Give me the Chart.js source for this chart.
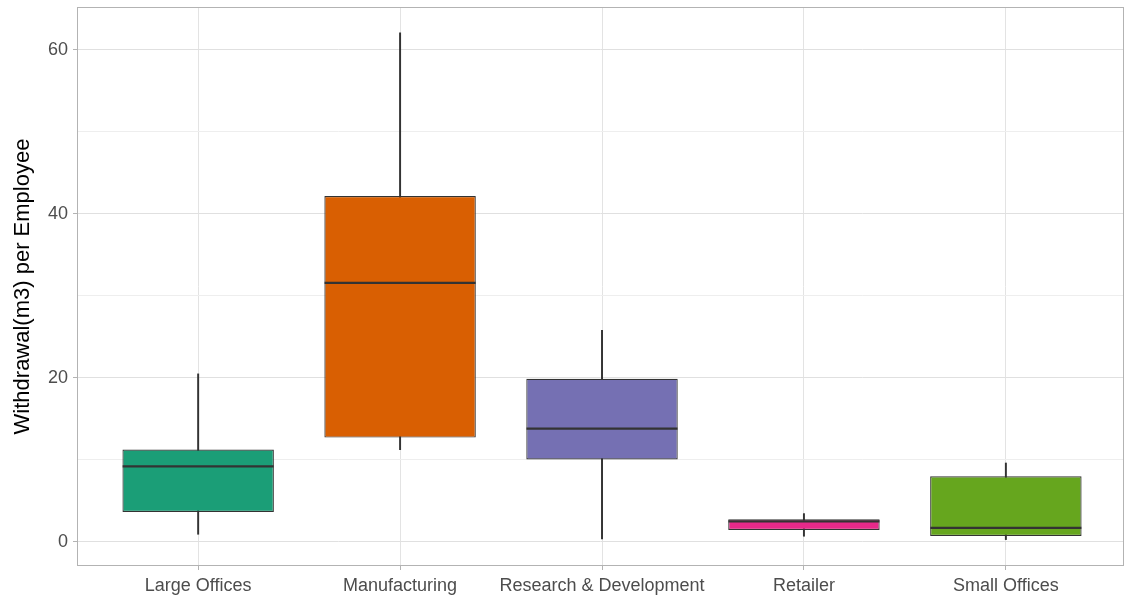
<!DOCTYPE html>
<html>
<head>
<meta charset="utf-8">
<script src="https://cdn.jsdelivr.net/npm/chart.js@4/dist/chart.umd.min.js"></script>
<style>
  html, body { margin: 0; padding: 0; background: #ffffff; }
  #wrap { width: 1124px; height: 601px; position: relative; }
</style>
</head>
<body>
<div id="wrap"><canvas id="chart"></canvas></div>
<script>
// Water withdrawal per employee by site type (box-and-whisker summary)
const categories = ['Large Offices', 'Manufacturing', 'Research & Development', 'Retailer', 'Small Offices'];
const whiskerLow  = [0.94, 11.27, 0.37, 0.70, 0.29];
const lowerQuart  = [3.66, 12.73, 10.05, 1.46, 0.73];
const medians     = [9.23, 31.60, 13.83, 2.52, 1.71];
const upperQuart  = [11.27, 42.20, 19.90, 2.77, 8.00];
const whiskerHigh = [20.50, 62.10, 25.80, 3.46, 9.63];
const yTickValues = [0, 10, 20, 30, 40, 50, 60];
const yLabelled   = [0, 20, 40, 60];
const boxColors   = ['#1B9E77', '#D95F02', '#7570B3', '#E7298A', '#66A61E'];

const FONT = '"Liberation Sans", Arial, Helvetica, sans-serif';
const INK = '#333333';

// ggplot-style panel frame drawn over the plot
const panelFrame = {
  id: 'panelFrame',
  afterDatasetsDraw(chart) {
    const { ctx, chartArea: a } = chart;
    ctx.save();
    ctx.strokeStyle = '#b3b3b3';
    ctx.lineWidth = 1;
    ctx.strokeRect(a.left + 0.5, a.top + 0.5, a.right - a.left - 1, a.bottom - a.top - 1);
    ctx.restore();
  }
};

new Chart(document.getElementById('chart'), {
  type: 'bar',
  data: {
    datasets: [
      {
        type: 'line',
        label: 'median',
        data: categories.map((c, i) => ({ x: i, y: medians[i] })),
        showLine: false,
        pointStyle: 'line',
        pointRadius: 75.5,
        pointHoverRadius: 75.5,
        pointBorderWidth: 2.2,
        pointBorderColor: INK,
        borderColor: INK,
        order: 0
      },
      {
        label: 'box',
        data: categories.map((c, i) => ({ x: i, y: [lowerQuart[i], upperQuart[i]] })),
        backgroundColor: boxColors,
        borderColor: INK,
        borderWidth: 1.2,
        borderSkipped: false,
        grouped: false,
        categoryPercentage: 1,
        barPercentage: 0.75,
        order: 1
      },
      {
        label: 'whisker',
        data: categories.map((c, i) => ({ x: i, y: [whiskerLow[i], whiskerHigh[i]] })),
        backgroundColor: INK,
        borderWidth: 0,
        grouped: false,
        barThickness: 1.3,
        order: 2
      }
    ]
  },
  options: {
    responsive: true,
    maintainAspectRatio: false,
    animation: false,
    layout: { autoPadding: false, padding: { top: 7, left: 0, right: 0, bottom: 0 } },
    plugins: {
      legend: { display: false },
      tooltip: { enabled: false }
    },
    scales: {
      x: {
        type: 'linear',
        offset: false,
        min: -0.6,
        max: 4.585,
        afterBuildTicks(scale) {
          scale.ticks = categories.map((c, i) => ({ value: i }));
        },
        afterFit(scale) {
          scale.height = 35;
          scale.paddingLeft = 0;
          scale.paddingRight = 0;
        },
        ticks: {
          autoSkip: false,
          maxRotation: 0,
          padding: 5,
          color: '#4d4d4d',
          font: { family: FONT, size: 18 },
          callback: (v) => categories[v] ?? ''
        },
        grid: {
          offset: false,
          color: '#e3e3e3',
          lineWidth: 1,
          drawTicks: true,
          tickLength: 4,
          tickColor: '#b3b3b3'
        },
        border: { display: false }
      },
      y: {
        type: 'linear',
        min: -2.93,
        max: 65.24,
        afterBuildTicks(scale) {
          scale.ticks = yTickValues.map(v => ({ value: v }));
        },
        afterFit(scale) {
          scale.width = 77;
          scale.paddingTop = 0;
          scale.paddingBottom = 0;
        },
        title: {
          display: true,
          text: 'Withdrawal(m3) per Employee',
          color: '#000000',
          font: { family: FONT, size: 22 },
          padding: { top: 10, bottom: 0 }
        },
        ticks: {
          padding: 5,
          color: '#4d4d4d',
          font: { family: FONT, size: 18 },
          callback: (v) => yLabelled.includes(v) ? String(v) : ''
        },
        grid: {
          color: (c) => yLabelled.includes(c.tick && c.tick.value) ? '#e0e0e0' : '#eeeeee',
          lineWidth: 1,
          drawTicks: true,
          tickLength: 4,
          tickColor: (c) => yLabelled.includes(c.tick && c.tick.value) ? '#b3b3b3' : 'rgba(0,0,0,0)'
        },
        border: { display: false }
      }
    }
  },
  plugins: [panelFrame]
});
</script>
</body>
</html>
